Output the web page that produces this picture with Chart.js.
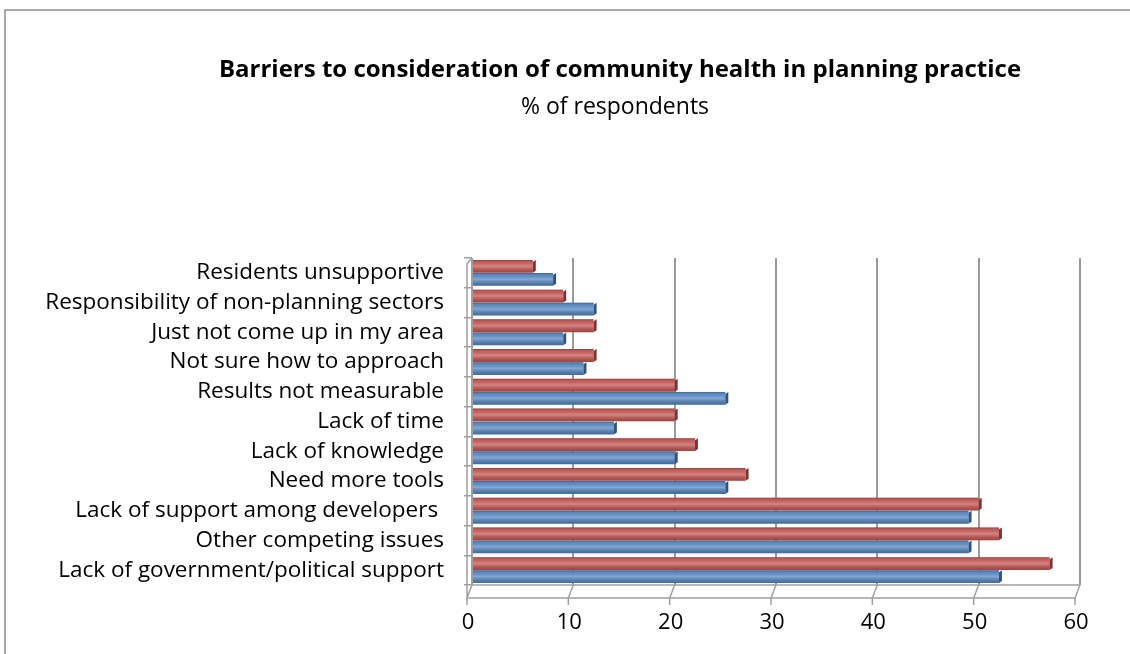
<!DOCTYPE html>
<html>
<head>
<meta charset="utf-8">
<script src="https://cdn.jsdelivr.net/npm/chart.js@4.4.1/dist/chart.umd.min.js"></script>
<style>
  html, body { margin: 0; padding: 0; background: #fff; }
</style>
</head>
<body>
<canvas id="graph-barrieres" width="1130" height="654"></canvas>
<script>
// Categories, top to bottom
const categories = [
    'Residents unsupportive',
    'Responsibility of non-planning sectors',
    'Just not come up in my area',
    'Not sure how to approach',
    'Results not measurable',
    'Lack of time',
    'Lack of knowledge',
    'Need more tools',
    'Lack of support among developers ',
    'Other competing issues',
    'Lack of government/political support'
];
// red bars (upper bar of each pair)
const redValues = [6, 9, 12, 12, 20, 20, 22, 27, 50, 52, 57];
// blue bars (lower bar of each pair)
const blueValues = [8, 12, 9, 11, 25, 14, 20, 25, 49, 49, 52];
const xTicks = [0, 10, 20, 30, 40, 50, 60];

const chartTitle = 'Barriers to consideration of community health in planning practice';
const chartSubtitle = '% of respondents';

const FONT = "'Open Sans', 'Liberation Sans', sans-serif";

// cadre, titres et sol 3D façon Excel
const framePlugin = {
    id: 'frame',
    beforeDraw(chart) {
        const ctx = chart.ctx;
        ctx.save();
        ctx.fillStyle = '#fff';
        ctx.fillRect(0, 0, chart.width, chart.height);
        ctx.strokeStyle = '#8c8c8c';
        ctx.lineWidth = 1.5;
        ctx.beginPath();
        ctx.moveTo(5, chart.height);
        ctx.lineTo(5, 10);
        ctx.lineTo(chart.width, 10);
        ctx.stroke();
        // titres
        ctx.fillStyle = '#000';
        ctx.textAlign = 'center';
        ctx.textBaseline = 'middle';
        ctx.font = 'bold 24px ' + FONT;
        ctx.fillText(chartTitle, 620, 70);
        ctx.font = '23px ' + FONT;
        ctx.fillText(chartSubtitle, 615, 107);
        ctx.restore();
    },
    beforeDatasetsDraw(chart) {
        const ctx = chart.ctx;
        const area = chart.chartArea;
        const x = chart.scales.x;
        const dx = -5, dy = 13;
        ctx.save();
        ctx.strokeStyle = '#a0a0a0';
        ctx.lineWidth = 1.5;
        ctx.beginPath();
        // arête arrière et avant du sol
        ctx.moveTo(area.left, area.bottom);
        ctx.lineTo(area.right, area.bottom);
        ctx.moveTo(area.left + dx, area.bottom + dy);
        ctx.lineTo(area.right + dx, area.bottom + dy);
        xTicks.forEach(t => {
            const px = x.getPixelForValue(t);
            ctx.moveTo(px, area.bottom);
            ctx.lineTo(px + dx, area.bottom + dy);
            ctx.moveTo(px + dx, area.bottom + dy);
            ctx.lineTo(px + dx, area.bottom + dy + 7);
        });
        // mur gauche
        ctx.moveTo(area.left, area.top);
        ctx.lineTo(area.left, area.bottom);
        ctx.moveTo(area.left, area.top);
        ctx.lineTo(area.left - 5, area.top + 6);
        ctx.lineTo(area.left - 5, area.bottom + dy);
        ctx.stroke();
        ctx.restore();
    },
    afterDatasetsDraw(chart) {
        const ctx = chart.ctx;
        ctx.save();
        chart.data.datasets.forEach((ds, i) => {
            const meta = chart.getDatasetMeta(i);
            meta.data.forEach(bar => {
                const p = bar.getProps(['x', 'y', 'base', 'height'], true);
                const top = p.y - p.height / 2;
                const left = Math.min(p.base, p.x);
                const w = Math.abs(p.x - p.base);
                // reflet
                const g = ctx.createLinearGradient(0, top, 0, top + p.height);
                g.addColorStop(0, 'rgba(0,0,0,0.28)');
                g.addColorStop(0.22, 'rgba(255,255,255,0.08)');
                g.addColorStop(0.5, 'rgba(255,255,255,0.30)');
                g.addColorStop(1, 'rgba(0,0,0,0.15)');
                ctx.fillStyle = g;
                ctx.fillRect(left, top, w, p.height);
                // bout du cylindre
                ctx.fillStyle = ds.capColor;
                ctx.beginPath();
                ctx.moveTo(p.x, top + 2);
                ctx.lineTo(p.x + 3, top);
                ctx.lineTo(p.x + 3, top + p.height - 2);
                ctx.lineTo(p.x, top + p.height);
                ctx.closePath();
                ctx.fill();
            });
        });
        ctx.restore();
    }
};

const ctx = document.getElementById('graph-barrieres').getContext('2d');

new Chart(ctx, {
    type: 'bar',
    data: {
        labels: categories,
        datasets: [
            {
                label: 'Series 1',
                data: redValues,
                backgroundColor: '#c0504d',
                capColor: '#8c2f2c',
                borderWidth: 0,
                barPercentage: 0.98,
                categoryPercentage: 0.88
            },
            {
                label: 'Series 2',
                data: blueValues,
                backgroundColor: '#4f81bd',
                capColor: '#2c5585',
                borderWidth: 0,
                barPercentage: 0.98,
                categoryPercentage: 0.88
            }
        ]
    },
    options: {
        indexAxis: 'y',
        responsive: false,
        animation: false,
        layout: {
            padding: { left: 0, right: 50, top: 258, bottom: 17 }
        },
        plugins: {
            legend: { display: false },
            tooltip: { enabled: false },
            title: { display: false }
        },
        scales: {
            x: {
                min: 0,
                max: 60,
                afterBuildTicks: axis => { axis.ticks = xTicks.map(v => ({ value: v })); },
                afterFit: axis => { axis.height = 52; },
                grid: {
                    color: '#9a9a9a',
                    lineWidth: 2,
                    drawTicks: false
                },
                border: { display: false },
                ticks: {
                    color: '#000',
                    padding: 25,
                    labelOffset: -4,
                    font: { family: FONT, size: 22 }
                }
            },
            y: {
                afterFit: axis => { axis.width = 472; },
                grid: {
                    drawOnChartArea: false,
                    drawTicks: true,
                    tickLength: 8,
                    color: '#a0a0a0',
                    lineWidth: 1.5
                },
                border: { display: false },
                ticks: {
                    autoSkip: false,
                    color: '#000',
                    padding: 20,
                    font: { family: FONT, size: 22.5 }
                }
            }
        }
    },
    plugins: [framePlugin]
});
</script>
</body>
</html>
